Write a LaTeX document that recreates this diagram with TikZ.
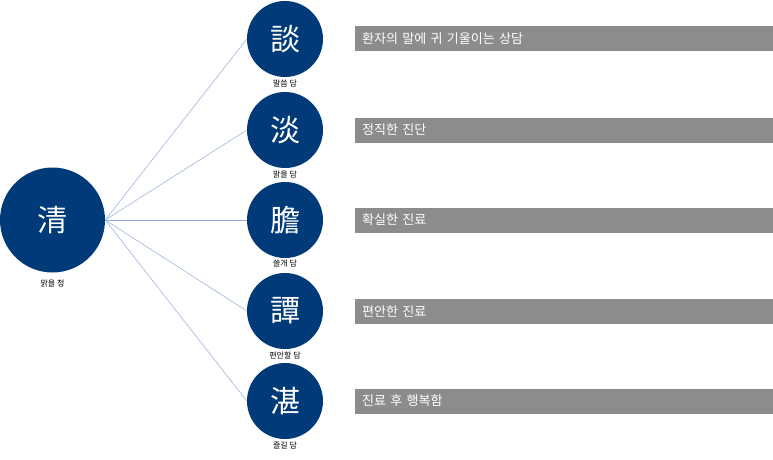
\documentclass[tikz,border=0pt]{standalone}
\usepackage{fontspec}
\setmainfont{Noto Sans CJK KR}
\definecolor{navy}{HTML}{003A78}
\definecolor{lnk}{HTML}{8FAADC}
\definecolor{bar}{HTML}{8C8C8C}
\begin{document}
\begin{tikzpicture}[x=1pt,y=-1pt,
  big/.style={circle,fill=navy,minimum size=105pt,inner sep=0pt,text=white,font=\fontsize{30}{30}\selectfont},
  small/.style={circle,fill=navy,minimum size=76pt,inner sep=0pt,text=white,font=\fontsize{30}{30}\selectfont},
  lbl/.style={font=\fontsize{8}{8}\selectfont,text=black},
  barbox/.style={fill=bar,minimum height=25pt,minimum width=418pt,inner sep=0pt,anchor=west,text=white,font=\fontsize{13}{13}\selectfont,text width=404pt,align=left},
  lk/.style={draw=lnk,line width=0.5pt}]
\useasboundingbox (0,0) rectangle (773,460);
\node[big] (c) at (52.5,220) {清};
\node[lbl] (cl) at (52.5,283) {맑을 청};
\foreach \i/\y/\ch/\lab/\txt in {1/39/談/말씀 담/환자의 말에 귀 기울이는 상담,
  2/130/淡/맑을 담/정직한 진단,
  3/220/膽/쓸개 담/확실한 진료,
  4/311/譚/편안할 담/편안한 진료,
  5/401/湛/즐길 담/진료 후 행복함}{
  \node[small] (s\i) at (285,\y) {\ch};
  \node[lbl] (l\i) at (285,\y+44) {\lab};
  \node[barbox] (b\i) at (355,\y) {\txt};
  \draw[lk] (c.east) -- (s\i.west);
}
\end{tikzpicture}
\end{document}
